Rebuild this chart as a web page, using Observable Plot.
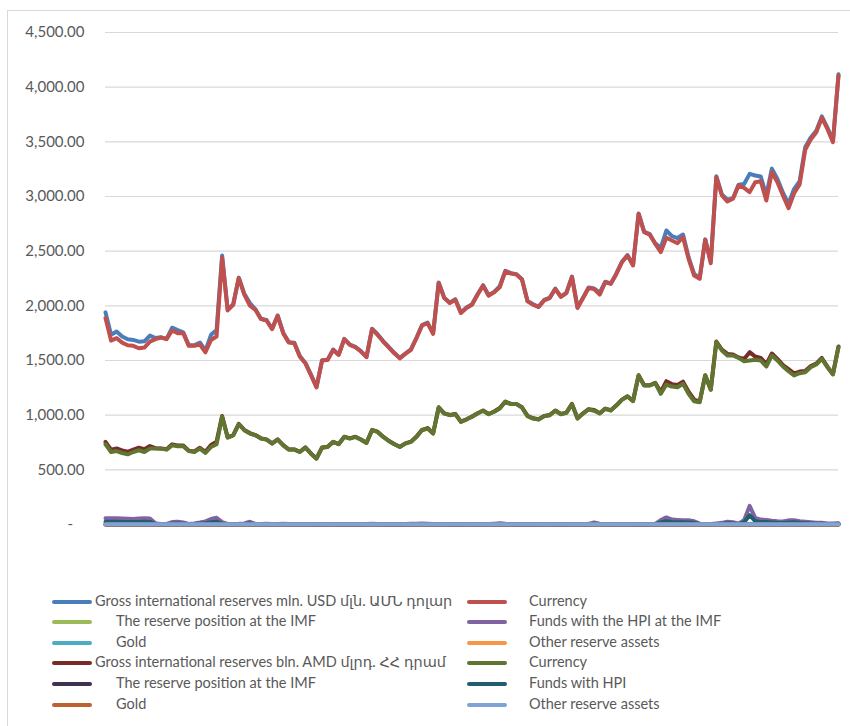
<!DOCTYPE html>
<html><head><meta charset="utf-8">
<script src="https://cdn.jsdelivr.net/npm/d3@7"></script>
<script src="https://cdn.jsdelivr.net/npm/@observablehq/plot@0.6"></script>
<style>
html,body{margin:0;padding:0;background:#fff;width:850px;height:726px;overflow:hidden;position:relative;font-family:Lato,"DejaVu Sans",sans-serif;}
#frame{position:absolute;left:7px;top:10px;width:860px;height:730px;border:1px solid #d9d9d9;box-sizing:border-box;}
#chart{position:absolute;left:0;top:0;}
.lg{position:absolute;font-size:14.5px;color:#595959;white-space:nowrap;line-height:16px;}
.sw{position:absolute;height:4px;border-radius:2px;}
</style></head><body>
<div id="frame"></div>
<div id="chart"></div>
<div id="legend"></div>
<script>
const yTicks = [0,500,1000,1500,2000,2500,3000,3500,4000,4500];

const usdGross = [1940,1735,1765,1720,1695,1688,1672,1675,1728,1705,1712,1698,1800,1778,1758,1640,1640,1665,1590,1735,1780,2460,1965,2015,2258,2110,2025,1968,1882,1870,1790,1912,1754,1668,1662,1540,1478,1370,1258,1502,1508,1600,1555,1698,1646,
1625,1586,1534,1791,1740,1678,1625,1570,1524,1564,1601,1708,1824,1846,1748,2213,2075,2029,2060,1938,1985,2014,2106,2189,2097,2128,2181,2320,2299,2290,2244,2045,2014,1993,2054,2075,2158,2085,2121,2268,1985,2075,2167,2158,2120,
2220,2205,2296,2403,2464,2373,2845,2678,2656,2571,2530,2689,2637,2620,2652,2445,2292,2252,2608,2405,3185,3020,2970,2985,3108,3115,3207,3192,3183,3009,3255,3160,3035,2933,3068,3140,3450,3540,3602,3733,3630,3507,4118];

const usdCurrency = [1888,1682,1704,1664,1640,1634,1612,1618,1673,1695,1710,1695,1774,1750,1750,1634,1634,1646,1575,1688,1719,2439,1958,2010,2255,2102,2001,1964,1878,1866,1787,1909,1750,1664,1658,1535,1474,1367,1254,1499,1505,1597,1551,1695,1643,
1621,1582,1530,1787,1734,1673,1621,1566,1520,1560,1597,1704,1820,1842,1744,2209,2071,2025,2056,1934,1981,2010,2102,2185,2093,2124,2169,2316,2295,2286,2240,2041,2010,1989,2050,2071,2154,2081,2117,2264,1981,2071,2163,2154,2102,
2216,2201,2292,2399,2460,2369,2841,2674,2652,2567,2491,2622,2597,2573,2628,2430,2277,2247,2604,2390,3177,3009,2954,2979,3101,3079,3040,3131,3140,2963,3222,3131,3009,2893,3030,3110,3427,3521,3588,3719,3619,3497,4107];

const usdReservePos = [1,1,1,1,1,1,1,1,1,1,1,1,1,1,1,1,1,1,1,1,1,1,1,1,1,1,1,1,1,1,1,1,1,1,1,1,1,1,1,1,1,1,1,1,1,1,1,1,1,1,1,1,1,1,1,1,1,1,1,1,1,1,1,1,1,1,1,1,1,1,1,1,1,1,1,1,1,1,1,1,1,1,1,1,1,1,1,1,1,1,1,1,1,1,1,1,1,1,1,1,1,1,1,1,1,1,1,1,1,1,1,1,1,1,1,1,1,1,1,1,1,1,1,1,1,1,1,1,1,1,1,1,1];

const usdHpi = [58,57,57,55,52,50,55,57,55,12,2,5,22,25,18,5,10,18,28,50,62,22,5,4,6,10,25,5,4,6,5,4,6,4,3,5,4,3,4,3,5,4,3,4,3,
4,3,4,6,5,4,3,4,3,4,6,8,10,8,4,5,4,3,4,3,5,4,3,4,5,8,12,6,4,3,4,3,4,3,5,4,3,4,3,5,4,3,6,18,8,
4,3,4,5,4,3,4,3,4,5,40,65,45,42,40,38,30,8,4,5,10,15,25,20,8,40,170,60,45,42,35,30,28,38,40,30,25,20,15,15,10,10,12];

const usdGold = [0,0,0,0,0,0,0,0,0,0,0,0,0,0,0,0,0,0,0,0,0,0,0,0,0,0,0,0,0,0,0,0,0,0,0,0,0,0,0,0,0,0,0,0,0,0,0,0,0,0,0,0,0,0,0,0,0,0,0,0,0,0,0,0,0,0,0,0,0,0,0,0,0,0,0,0,0,0,0,0,0,0,0,0,0,0,0,0,0,0,0,0,0,0,0,0,0,0,0,0,0,0,0,0,0,0,0,0,0,0,0,0,0,0,0,0,0,0,0,0,0,0,0,0,0,0,0,0,0,0,0,0,0];

const usdOther = [2,2,2,2,2,2,2,2,2,2,2,2,2,2,2,2,2,2,2,2,2,2,2,2,2,2,2,2,2,2,2,2,2,2,2,2,2,2,2,2,2,2,2,2,2,2,2,2,2,2,2,2,2,2,2,2,2,2,2,2,2,2,2,2,2,2,2,2,2,2,2,2,2,2,2,2,2,2,2,2,2,2,2,2,2,2,2,2,2,2,2,2,2,2,2,2,2,2,2,2,2,2,2,2,2,2,2,2,2,2,2,2,2,2,2,2,2,2,2,2,2,2,2,2,2,2,2,2,2,2,2,2,2];

const amdGross = [755,685,695,678,665,685,702,688,718,698,696,688,733,722,722,675,668,702,665,728,758,992,797,818,920,865,836,818,788,778,742,778,726,687,687,665,705,650,604,705,711,757,736,803,788,
803,778,748,864,849,803,766,736,711,742,758,804,866,882,834,1072,1017,1002,1011,941,962,987,1017,1042,1011,1034,1066,1124,1103,1103,1072,993,971,962,993,1002,1042,1011,1023,1103,971,1017,1055,1048,1018,
1060,1045,1090,1142,1173,1130,1365,1273,1273,1295,1213,1311,1284,1276,1307,1214,1143,1123,1365,1235,1673,1600,1560,1556,1528,1514,1576,1536,1524,1467,1564,1515,1459,1421,1383,1399,1405,1449,1471,1523,1444,1377,1628];

const amdCurrency = [734,663,672,654,642,663,679,663,694,694,694,685,724,715,715,672,663,694,654,709,734,985,795,816,917,862,832,816,786,776,740,776,724,685,685,663,703,648,602,703,709,755,734,801,786,
801,776,746,862,847,801,764,734,709,740,755,801,862,878,832,1070,1015,1000,1009,939,960,985,1015,1040,1009,1031,1061,1122,1101,1101,1070,991,969,960,991,1000,1040,1009,1021,1101,969,1015,1052,1040,1015,
1058,1043,1088,1140,1171,1128,1363,1271,1271,1293,1195,1280,1262,1256,1287,1195,1128,1119,1363,1232,1668,1592,1546,1546,1524,1494,1500,1506,1500,1445,1546,1500,1445,1402,1363,1384,1393,1439,1463,1515,1439,1372,1622];

const amdReservePos = [1,1,1,1,1,1,1,1,1,1,1,1,1,1,1,1,1,1,1,1,1,1,1,1,1,1,1,1,1,1,1,1,1,1,1,1,1,1,1,1,1,1,1,1,1,1,1,1,1,1,1,1,1,1,1,1,1,1,1,1,1,1,1,1,1,1,1,1,1,1,1,1,1,1,1,1,1,1,1,1,1,1,1,1,1,1,1,1,1,1,1,1,1,1,1,1,1,1,1,1,1,1,1,1,1,1,1,1,1,1,1,1,1,1,1,1,1,1,1,1,1,1,1,1,1,1,1,1,1,1,1,1,1];

const amdHpi = [26,25,25,24,23,22,24,25,24,4,1,2,8,10,7,2,4,8,12,20,25,8,2,2,2,4,10,2,2,2,2,2,2,2,1,2,2,1,2,1,2,2,1,2,1,
2,1,2,2,2,2,1,2,1,2,2,3,4,3,2,2,2,1,2,1,2,2,1,2,2,3,5,2,2,1,2,1,2,1,2,2,1,2,1,2,2,1,2,7,3,
2,1,2,2,2,1,2,1,2,2,18,30,22,20,20,19,15,4,2,2,5,7,12,10,4,20,85,30,24,22,18,15,14,19,20,15,12,10,8,8,5,5,6];

const amdGold = [0,0,0,0,0,0,0,0,0,0,0,0,0,0,0,0,0,0,0,0,0,0,0,0,0,0,0,0,0,0,0,0,0,0,0,0,0,0,0,0,0,0,0,0,0,0,0,0,0,0,0,0,0,0,0,0,0,0,0,0,0,0,0,0,0,0,0,0,0,0,0,0,0,0,0,0,0,0,0,0,0,0,0,0,0,0,0,0,0,0,0,0,0,0,0,0,0,0,0,0,0,0,0,0,0,0,0,0,0,0,0,0,0,0,0,0,0,0,0,0,0,0,0,0,0,0,0,0,0,0,0,0,0];

const amdOther = [2,2,2,2,2,2,2,2,2,2,2,2,2,2,2,2,2,2,2,2,2,2,2,2,2,2,2,2,2,2,2,2,2,2,2,2,2,2,2,2,2,2,2,2,2,2,2,2,2,2,2,2,2,2,2,2,2,2,2,2,2,2,2,2,2,2,2,2,2,2,2,2,2,2,2,2,2,2,2,2,2,2,2,2,2,2,2,2,2,2,2,2,2,2,2,2,2,2,2,2,2,2,2,2,2,2,2,2,2,2,2,2,2,2,2,2,2,2,2,2,2,2,2,2,2,2,2,2,2,2,2,2,2];

const seriesNames = [
  "Gross international reserves mln. USD մլն. ԱՄՆ դոլար",
  "Currency",
  "The reserve position at the IMF",
  "Funds with the HPI at the IMF",
  "Gold",
  "Other reserve assets",
  "Gross international reserves bln. AMD մլրդ. ՀՀ դրամ",
  "Currency",
  "The reserve position at the IMF",
  "Funds with HPI",
  "Gold",
  "Other reserve assets"
];
const seriesColors = ["#4a7ebb","#c0504d","#9bbb59","#8064a2","#4bacc6","#f79646","#772c2a","#5f7530","#403152","#215f6e","#c0602e","#7fa3d4"];
const seriesData = [usdGross,usdCurrency,usdReservePos,usdHpi,usdGold,usdOther,amdGross,amdCurrency,amdReservePos,amdHpi,amdGold,amdOther];
const indented = [false,true,true,true,true,true,false,true,true,true,true,true];

const fmt = d3.format(",.2f");
const lineMarks = seriesData.map((arr,k) => Plot.line(arr, {
  x: (d,i) => i, y: d => d, stroke: seriesColors[k], strokeWidth: 4,
  strokeLinejoin: "round", strokeLinecap: "round"
}));

const chart = Plot.plot({
  width: 850, height: 545,
  marginTop: 32, marginBottom: 21, marginLeft: 105, marginRight: 12,
  style: {fontFamily: "Lato, 'DejaVu Sans', sans-serif", background: "transparent"},
  x: {domain: [0, usdCurrency.length - 1], axis: null},
  y: {domain: [0, 4500]},
  marks: [
    Plot.gridY(yTicks, {stroke: "#d9d9d9", strokeOpacity: 1, strokeWidth: 1.2}),
    Plot.axisY(yTicks, {tickSize: 0, tickPadding: 21, fontSize: 15, fill: "#595959",
      tickFormat: d => d === 0 ? "-\u00a0\u00a0\u00a0" : fmt(d), label: null}),
    ...lineMarks
  ]
});
document.getElementById("chart").appendChild(chart);

const leftIdx = [0,2,4,6,8,10];
const rightIdx = [1,3,5,7,9,11];
const rowY = [602,622,642.5,663.3,684,704.5];
const lg = document.getElementById("legend");
function addItem(k, row, col){
  const sw = document.createElement("div");
  sw.className = "sw";
  const sx = col === 0 ? 52 : 467;
  sw.style.left = sx + "px"; sw.style.width = "40px";
  sw.style.top = (rowY[row] - 2) + "px";
  sw.style.background = seriesColors[k];
  lg.appendChild(sw);
  const t = document.createElement("div");
  t.className = "lg";
  t.textContent = seriesNames[k];
  const tx = col === 0 ? (indented[k] ? 116 : 95) : 529;
  t.style.left = tx + "px";
  t.style.top = (rowY[row] - 9) + "px";
  lg.appendChild(t);
}
leftIdx.forEach((k,r) => addItem(k, r, 0));
rightIdx.forEach((k,r) => addItem(k, r, 1));
</script>
</body></html>
